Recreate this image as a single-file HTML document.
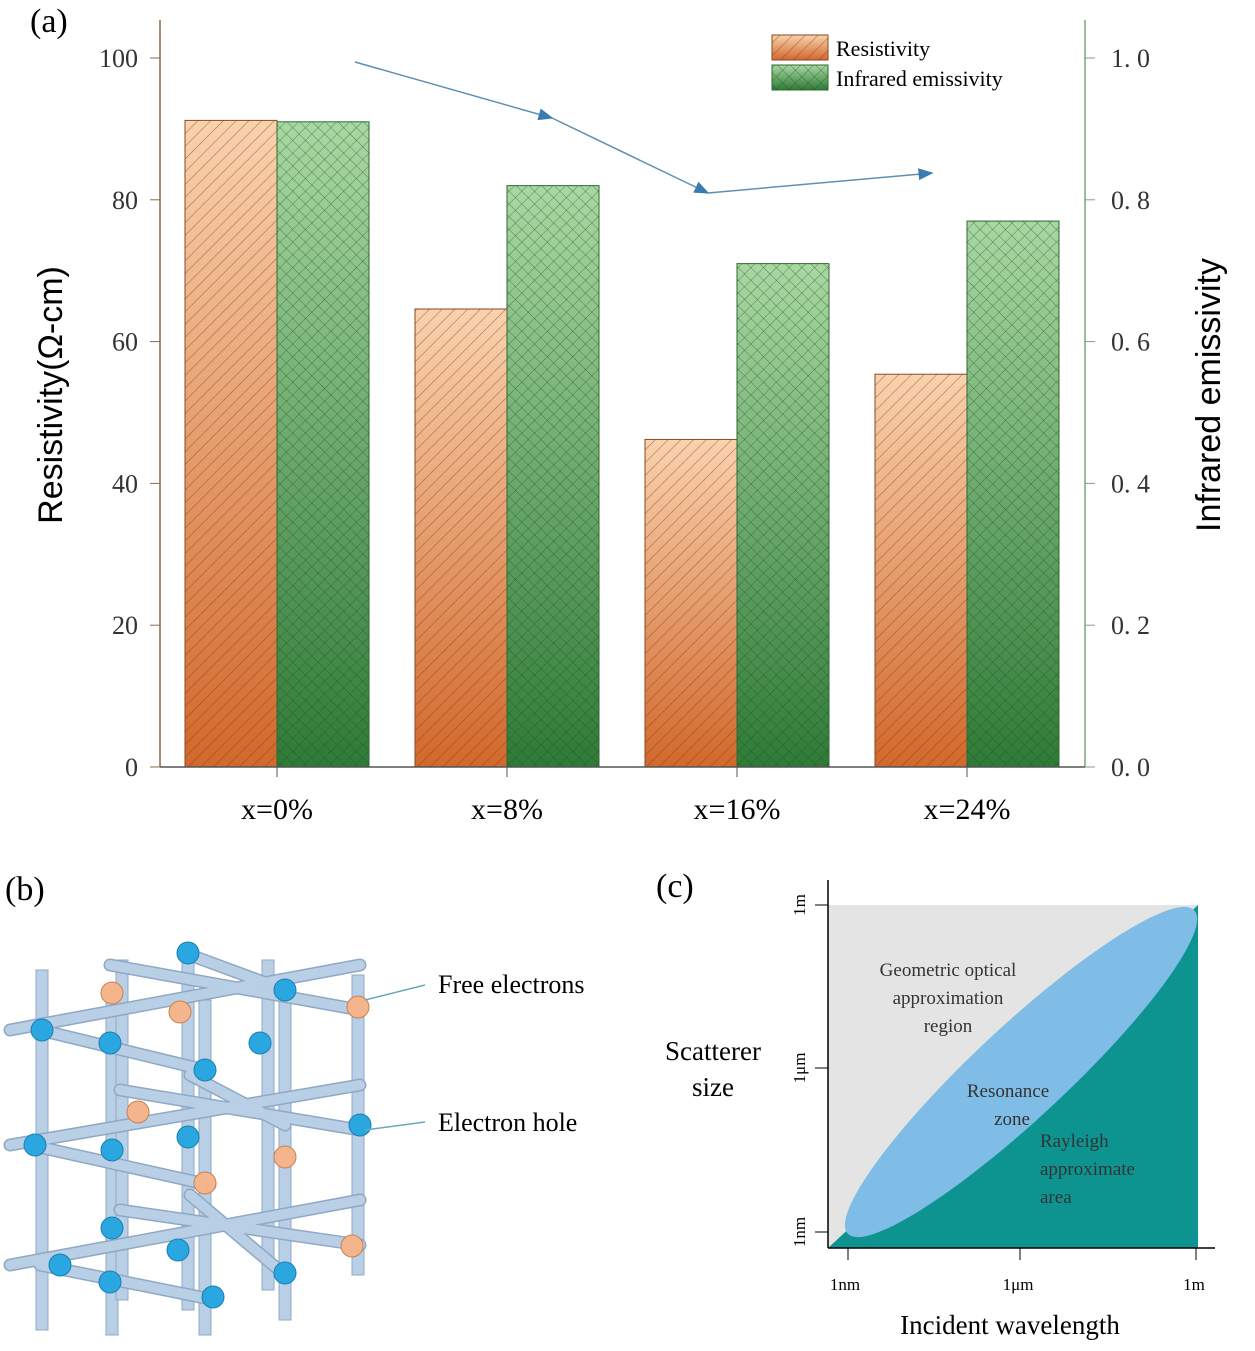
<!DOCTYPE html>
<html><head><meta charset="utf-8"><style>
body{margin:0;background:#fff;}
svg{display:block;font-family:"Liberation Serif",serif;}
</style></head><body>
<svg id="s" width="1255" height="1351" viewBox="0 0 1255 1351">
<defs>
<linearGradient id="go" x1="0" y1="0" x2="0" y2="1"><stop offset="0" stop-color="#f9d2ae"/><stop offset="1" stop-color="#d2682c"/></linearGradient>
<linearGradient id="gg" x1="0" y1="0" x2="0" y2="1"><stop offset="0" stop-color="#a9d8a2"/><stop offset="1" stop-color="#2f7a37"/></linearGradient>
<pattern id="ho" width="9" height="9" patternUnits="userSpaceOnUse" patternTransform="rotate(45)"><line x1="0" y1="0" x2="0" y2="9" stroke="#7a3a10" stroke-width="1.2" opacity="0.6"/></pattern>
<pattern id="hg" width="9" height="9" patternUnits="userSpaceOnUse" patternTransform="rotate(45)"><line x1="0" y1="0" x2="0" y2="9" stroke="#1f4f22" stroke-width="1" opacity="0.6"/><line x1="0" y1="0" x2="9" y2="0" stroke="#1f4f22" stroke-width="1" opacity="0.6"/></pattern>
<marker id="ar" markerWidth="10" markerHeight="8" refX="9" refY="4" orient="auto"><path d="M0,0 L10,4 L0,8 z" fill="#3a7bb0"/></marker>
</defs>
<text x="30" y="32" font-size="34">(a)</text>
<g id="bars"></g>
<g id="axes"></g>
<polyline points="355,62 552,118" fill="none" stroke="#5f8fb0" stroke-width="1.5" marker-end="url(#ar)"/>
<polyline points="552,118 708,193" fill="none" stroke="#5f8fb0" stroke-width="1.5" marker-end="url(#ar)"/>
<polyline points="708,193 932,173" fill="none" stroke="#5f8fb0" stroke-width="1.5" marker-end="url(#ar)"/>
<g>
<rect x="772" y="35" width="56" height="25" fill="url(#go)" stroke="#8a4a20"/><rect x="772" y="35" width="56" height="25" fill="url(#ho)"/>
<text x="836" y="56" font-size="22">Resistivity</text>
<rect x="772" y="65" width="56" height="25" fill="url(#gg)" stroke="#2f6a33"/><rect x="772" y="65" width="56" height="25" fill="url(#hg)"/>
<text x="836" y="86" font-size="22">Infrared emissivity</text>
</g>
<text transform="translate(62,395) rotate(-90)" text-anchor="middle" font-size="34" font-family="Liberation Sans,sans-serif">Resistivity(Ω-cm)</text>
<text transform="translate(1220,395) rotate(-90)" text-anchor="middle" font-size="34" font-family="Liberation Sans,sans-serif">Infrared emissivity</text>

<text x="5" y="900" font-size="34">(b)</text>
<g id="lattice"></g>
<line x1="365" y1="1000" x2="425" y2="985" stroke="#6ab" stroke-width="1.5"/>
<line x1="365" y1="1130" x2="425" y2="1122" stroke="#6ab" stroke-width="1.5"/>
<text x="438" y="993" font-size="26">Free electrons</text>
<text x="438" y="1131" font-size="26">Electron hole</text>

<text x="656" y="897" font-size="34">(c)</text>
<g>
<rect x="828" y="905" width="370" height="343" fill="#e4e4e4"/>
<path d="M828,1248 L1198,905 L1198,1248 z" fill="#0d9490"/>
<ellipse cx="1021" cy="1072" rx="237" ry="46" transform="rotate(-43 1021 1072)" fill="#7fbde6"/>
<line x1="828" y1="880" x2="828" y2="1248" stroke="#000" stroke-width="1.5"/>
<line x1="828" y1="1248" x2="1215" y2="1248" stroke="#000" stroke-width="1.5"/>
<line x1="815" y1="905" x2="828" y2="905" stroke="#000"/><line x1="815" y1="1068" x2="828" y2="1068" stroke="#000"/><line x1="815" y1="1232" x2="828" y2="1232" stroke="#000"/>
<line x1="848" y1="1248" x2="848" y2="1260" stroke="#000"/><line x1="1020" y1="1248" x2="1020" y2="1260" stroke="#000"/><line x1="1196" y1="1248" x2="1196" y2="1260" stroke="#000"/>
<text transform="translate(805,905) rotate(-90)" text-anchor="middle" font-size="17">1m</text>
<text transform="translate(805,1068) rotate(-90)" text-anchor="middle" font-size="17">1μm</text>
<text transform="translate(805,1232) rotate(-90)" text-anchor="middle" font-size="17">1nm</text>
<text x="845" y="1290" text-anchor="middle" font-size="17">1nm</text>
<text x="1018" y="1290" text-anchor="middle" font-size="17">1μm</text>
<text x="1194" y="1290" text-anchor="middle" font-size="17">1m</text>
<text x="948" y="976" text-anchor="middle" font-size="19" fill="#333">Geometric optical</text>
<text x="948" y="1004" text-anchor="middle" font-size="19" fill="#333">approximation</text>
<text x="948" y="1032" text-anchor="middle" font-size="19" fill="#333">region</text>
<text x="1008" y="1097" text-anchor="middle" font-size="19" fill="#333">Resonance</text>
<text x="1012" y="1125" text-anchor="middle" font-size="19" fill="#333">zone</text>
<text x="1040" y="1147" font-size="19" fill="#333">Rayleigh</text>
<text x="1040" y="1175" font-size="19" fill="#333">approximate</text>
<text x="1040" y="1203" font-size="19" fill="#333">area</text>
<text x="713" y="1060" text-anchor="middle" font-size="27">Scatterer</text>
<text x="713" y="1096" text-anchor="middle" font-size="27">size</text>
<text x="1010" y="1334" text-anchor="middle" font-size="27">Incident wavelength</text>
</g>

<script>
const categories=["x=0%","x=8%","x=16%","x=24%"];
const resistivity=[91.2,64.6,46.2,55.4];
const emissivity=[0.91,0.82,0.71,0.77];
const leftTicks=[0,20,40,60,80,100];
const rightTicks=["0. 0","0. 2","0. 4","0. 6","0. 8","1. 0"];
const NS="http://www.w3.org/2000/svg";
const X0=160,X1=1085,Y0=767,Y100=58;
const yL=v=>Y0-(Y0-Y100)*v/100;
const yR=v=>Y0-(Y0-Y100)*v;
const cx=i=>277+230*i;
function mk(t,a,p){const e=document.createElementNS(NS,t);for(const k in a)e.setAttribute(k,a[k]);(p||document.getElementById('s')).appendChild(e);return e;}
const bars=document.getElementById('bars'),axes=document.getElementById('axes');
categories.forEach((c,i)=>{
 const w=92;
 let y=yL(resistivity[i]);
 let b=mk('rect',{x:cx(i)-w,y:y,width:w,height:Y0-y,fill:'url(#go)',stroke:'#8a4a20'},bars);
 
 
 mk('rect',{x:cx(i)-w,y:y,width:w,height:Y0-y,fill:'url(#ho)'},bars);
 y=yR(emissivity[i]);
 let g=mk('rect',{x:cx(i),y:y,width:w,height:Y0-y,fill:'url(#gg)',stroke:'#2f6a33'},bars);
 
 
 mk('rect',{x:cx(i),y:y,width:w,height:Y0-y,fill:'url(#hg)'},bars);
 mk('line',{x1:cx(i),y1:Y0,x2:cx(i),y2:Y0+10,stroke:'#555'},axes);
 let t=mk('text',{x:cx(i),y:Y0+52,'text-anchor':'middle','font-size':30},axes);t.textContent=c;
 
 
});
mk('line',{x1:X0,y1:20,x2:X0,y2:Y0,stroke:'#8a6a4a','stroke-width':1.5},axes);
mk('line',{x1:X1,y1:20,x2:X1,y2:Y0,stroke:'#7aa57a','stroke-width':1.5},axes);
mk('line',{x1:X0,y1:Y0,x2:X1,y2:Y0,stroke:'#555','stroke-width':1.5},axes);
leftTicks.forEach((v,i)=>{
 mk('line',{x1:X0-10,y1:yL(v),x2:X0,y2:yL(v),stroke:'#8a6a4a'},axes);
 let t=mk('text',{x:X0-22,y:yL(v)+9,'text-anchor':'end','font-size':26,fill:'#333'},axes);t.textContent=v;
 
 
 mk('line',{x1:X1,y1:yL(v),x2:X1+10,y2:yL(v),stroke:'#7aa57a'},axes);
 let r=mk('text',{x:X1+26,y:yL(v)+9,'font-size':26,fill:'#333'},axes);r.textContent=rightTicks[i];
 
 
});
const L=document.getElementById('lattice');
const col='#b9cfe6',st='#8fa8c4';
[[42,970,1330],[112,1000,1335],[205,1000,1335],[285,1000,1320],[122,960,1300],[188,950,1310],[268,960,1290],[358,975,1275]].forEach(v=>mk('rect',{x:v[0]-6,y:v[1],width:12,height:v[2]-v[1],fill:col,stroke:st},L));
const segs=[[[10,1030],[360,965]],[[10,1145],[360,1085]],[[10,1265],[360,1200]],[[40,1030],[205,1070]],[[110,965],[360,1010]],[[30,1145],[210,1185]],[[120,1090],[360,1130]],[[40,1265],[215,1300]],[[120,1210],[360,1245]],[[190,955],[285,990]],[[190,1075],[285,1125]],[[190,1195],[285,1275]]];
segs.forEach(p=>mk('line',{x1:p[0][0],y1:p[0][1],x2:p[1][0],y2:p[1][1],stroke:st,'stroke-width':13,'stroke-linecap':'round'},L));
segs.forEach(p=>mk('line',{x1:p[0][0],y1:p[0][1],x2:p[1][0],y2:p[1][1],stroke:col,'stroke-width':10,'stroke-linecap':'round'},L));
[[188,953],[285,990],[42,1030],[110,1043],[260,1043],[205,1070],[35,1145],[112,1150],[188,1137],[360,1125],[112,1228],[178,1250],[60,1265],[110,1282],[285,1273],[213,1297]].forEach(c=>mk('circle',{cx:c[0],cy:c[1],r:11,fill:'#2aa6e0',stroke:'#1b7fb0'},L));
[[112,993],[180,1012],[358,1007],[138,1112],[285,1157],[205,1183],[352,1246]].forEach(c=>mk('circle',{cx:c[0],cy:c[1],r:11,fill:'#f5b58c',stroke:'#c98050'},L));
</script>
</svg>
</body></html>
